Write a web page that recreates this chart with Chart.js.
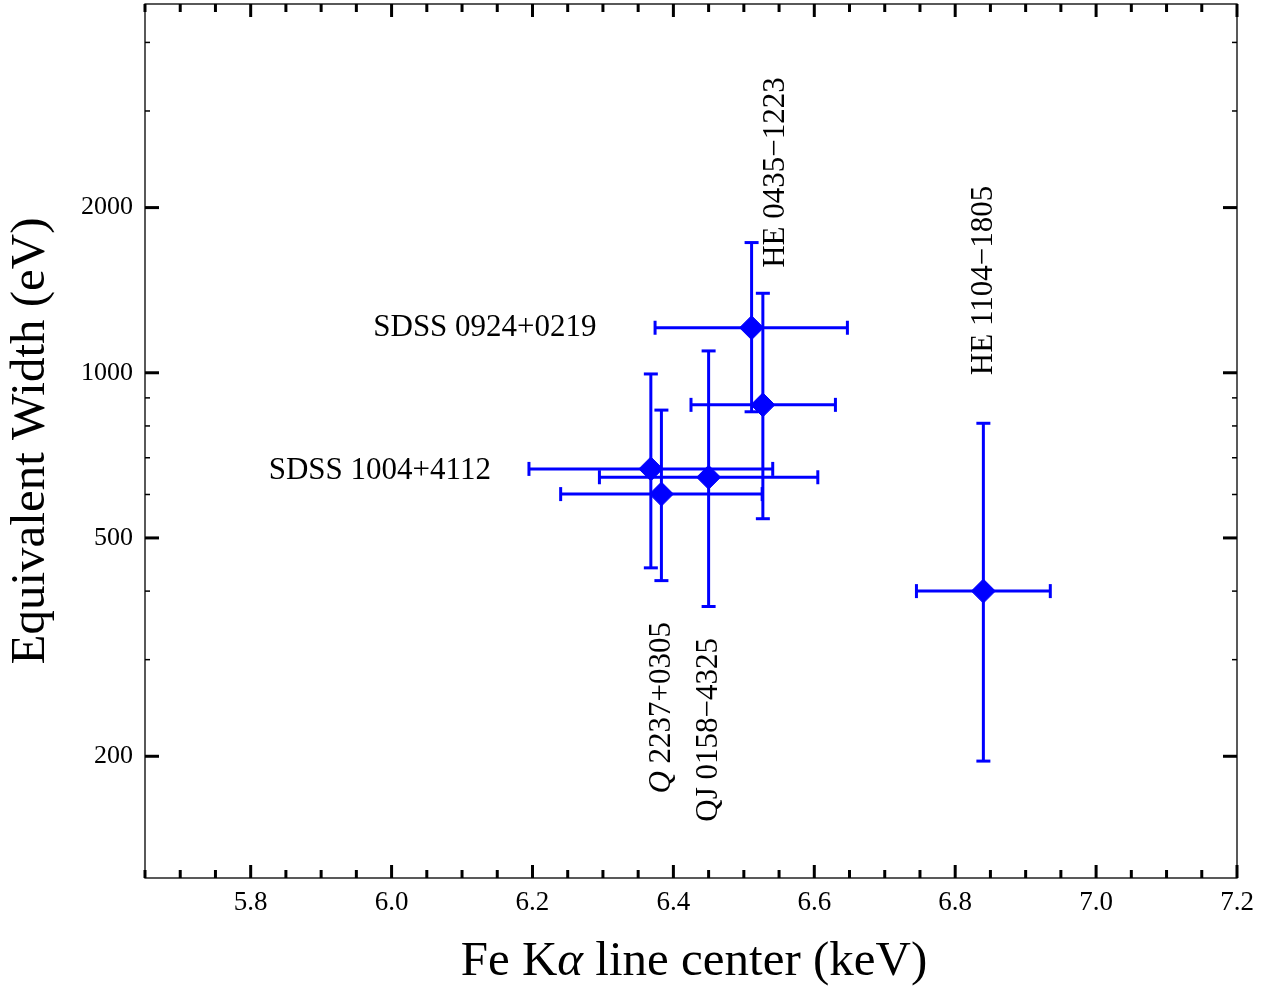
<!DOCTYPE html>
<html>
<head>
<meta charset="utf-8">
<title>Fe K line center vs equivalent width</title>
<script src="https://cdn.jsdelivr.net/npm/chart.js@4.4.1/dist/chart.umd.min.js"></script>
<style>
  html,body{margin:0;padding:0;background:#fff;}
  #wrap{position:relative;width:1271px;height:989px;}
</style>
</head>
<body>
<div id="wrap"><canvas id="chart"></canvas></div>
<script>
// Data
const sources   = ['SDSS 0924+0219','HE 0435\u22121223','SDSS 1004+4112','Q 2237+0305','QJ 0158\u22124325','HE 1104\u22121805'];
const lineE     = [6.511, 6.527, 6.368, 6.383, 6.450, 6.840];   // keV
const lineELo   = [6.374, 6.425, 6.195, 6.240, 6.295, 6.745];
const lineEHi   = [6.647, 6.630, 6.541, 6.526, 6.605, 6.935];
const eqWidth   = [1208, 874, 668, 601, 645, 400];              // eV
const eqWidthLo = [849, 542, 441, 418, 375, 196];
const eqWidthHi = [1727, 1396, 995, 855, 1096, 809];

// Axis ticks
const xTicks = [5.8, 6.0, 6.2, 6.4, 6.6, 6.8, 7.0, 7.2];
const yTicks = [200, 500, 1000, 2000];
const yMinor = [300, 400, 600, 700, 800, 900, 3000, 4000];

// Source name placement (data coords); vertical ones read bottom-to-top
const labelX      = [6.291, 6.545, 6.141, 6.383, 6.450, 6.841];
const labelY      = [1207, 1553, 662, 171, 152, 990];
const labelRot    = [false, true, false, true, true, true];
const labelItalic = [0, 0, 0, 1, 0, 0]; // leading italic chars

const SERIF = "'Liberation Serif','Times New Roman',serif";
const blue = '#0000ff';

function drawParts(ctx, parts, align, size){
  const fonts = parts.map(p => (p[1] ? 'italic ' : '') + size + 'px ' + SERIF);
  let w = 0;
  const ws = parts.map((p,j)=>{ ctx.font = fonts[j]; const m = ctx.measureText(p[0]).width; w += m; return m; });
  let cx = align==='right' ? -w : align==='center' ? -w/2 : 0;
  ctx.textAlign = 'left';
  parts.forEach((p,j)=>{ ctx.font = fonts[j]; ctx.fillText(p[0], cx, 0); cx += ws[j]; });
}

// frame + inward ticks on all four sides
const frameTicks = {
  id:'frameTicks',
  afterDatasetsDraw(chart){
    const {ctx, chartArea:a, scales:{x, y}} = chart;
    ctx.save();
    ctx.strokeStyle = '#000';
    ctx.lineWidth = 1.3;
    ctx.strokeRect(a.left, a.top, a.right-a.left, a.bottom-a.top);
    const tick = (x1,y1,x2,y2,w)=>{ ctx.lineWidth=w; ctx.beginPath(); ctx.moveTo(x1,y1); ctx.lineTo(x2,y2); ctx.stroke(); };
    for(let k=0; k<=31; k++){
      const v = 5.65 + k*0.05;
      const px = x.getPixelForValue(v);
      const major = xTicks.some(t=>Math.abs(t-v)<1e-6);
      const L = major ? 13 : 8;
      tick(px, a.bottom, px, a.bottom-L, 3);
      tick(px, a.top, px, a.top+L, 3);
    }
    yTicks.forEach(v=>{ const py=y.getPixelForValue(v); tick(a.left,py,a.left+14,py,3); tick(a.right,py,a.right-14,py,3); });
    yMinor.forEach(v=>{ const py=y.getPixelForValue(v); tick(a.left,py,a.left+5,py,1.5); tick(a.right,py,a.right-5,py,1.5); });
    ctx.restore();
  }
};

// source names and the x-axis title (italic alpha)
const textLayer = {
  id:'textLayer',
  afterDatasetsDraw(chart){
    const {ctx, chartArea:a, scales:{x, y}} = chart;
    ctx.save();
    ctx.fillStyle = '#000';
    ctx.textBaseline = 'middle';
    sources.forEach((name,i)=>{
      const px = x.getPixelForValue(labelX[i]), py = y.getPixelForValue(labelY[i]);
      const k = labelItalic[i];
      const parts = k ? [[name.slice(0,k),true],[name.slice(k),false]] : [[name,false]];
      ctx.save();
      ctx.translate(px, py);
      if(labelRot[i]) ctx.rotate(-Math.PI/2);
      drawParts(ctx, parts, labelRot[i] ? 'left' : 'right', 31);
      ctx.restore();
    });
    ctx.textBaseline = 'alphabetic';
    ctx.save();
    ctx.translate((a.left+a.right)/2 + 3, a.bottom+97);
    drawParts(ctx, [['Fe K',false],['\u03b1',true],[' line center (keV)',false]], 'center', 49);
    ctx.restore();
    ctx.restore();
  }
};

const datasets = [{
  label:'sources',
  data: sources.map((n,i)=>({x:lineE[i], y:eqWidth[i]})),
  pointStyle:'rectRot', pointRadius:12, borderWidth:1,
  backgroundColor:blue, borderColor:blue, showLine:false
}];
sources.forEach((name,i)=>{
  datasets.push({
    label:name+' dE',
    data:[{x:lineELo[i], y:eqWidth[i]}, {x:lineEHi[i], y:eqWidth[i]}],
    showLine:true, borderColor:blue, backgroundColor:blue, borderWidth:3,
    pointStyle:'line', pointRotation:90, pointRadius:7, pointBorderWidth:3
  });
  datasets.push({
    label:name+' dEW',
    data:[{x:lineE[i], y:eqWidthLo[i]}, {x:lineE[i], y:eqWidthHi[i]}],
    showLine:true, borderColor:blue, backgroundColor:blue, borderWidth:3,
    pointStyle:'line', pointRotation:0, pointRadius:7, pointBorderWidth:3
  });
});

Chart.defaults.font.family = SERIF;
Chart.defaults.color = '#000';

new Chart(document.getElementById('chart'), {
  type:'scatter',
  data:{datasets},
  options:{
    responsive:true, maintainAspectRatio:false,
    animation:false, events:[],
    layout:{autoPadding:false, padding:{left:0, top:4, right:34, bottom:0}},
    plugins:{legend:{display:false}, tooltip:{enabled:false}},
    scales:{
      x:{
        type:'linear', min:5.65, max:7.2,
        grid:{display:false, drawTicks:true, tickLength:5}, border:{display:false},
        afterBuildTicks: s => { s.ticks = xTicks.map(v=>({value:v})); },
        afterFit: s => { s.height = 111; s.paddingLeft = 0; s.paddingRight = 0; },
        ticks:{font:{size:27}, color:'#000', padding:4, maxRotation:0, autoSkip:false,
               callback: v => Number(v).toFixed(1)}
      },
      y:{
        type:'logarithmic', min:120, max:4700,
        grid:{display:false, drawTicks:true, tickLength:9}, border:{display:false},
        afterBuildTicks: s => { s.ticks = yTicks.map(v=>({value:v})); },
        afterFit: s => { s.width = 145; s.paddingTop = 0; s.paddingBottom = 0; },
        ticks:{font:{size:26}, color:'#000', padding:3, autoSkip:false,
               callback: v => String(v)},
        title:{display:true, text:'Equivalent Width (eV)', color:'#000',
               font:{size:49, lineHeight:1.0}, padding:{top:7, bottom:0}}
      }
    }
  },
  plugins:[frameTicks, textLayer]
});
</script>
</body>
</html>
